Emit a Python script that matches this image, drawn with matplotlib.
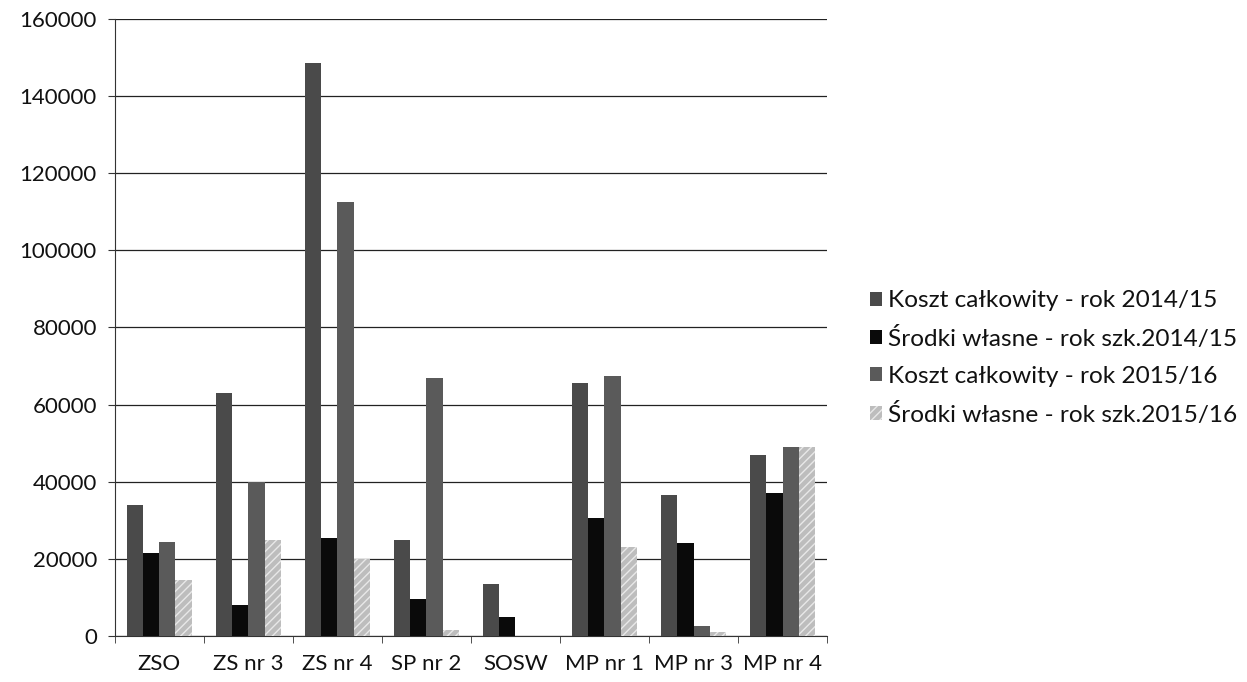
import matplotlib
matplotlib.use("Agg")
import matplotlib.pyplot as plt
import numpy as np

categories = ["ZSO", "ZS nr 3", "ZS nr 4", "SP nr 2", "SOSW", "MP nr 1", "MP nr 3", "MP nr 4"]
koszt_2014 = [34000, 63000, 148500, 25000, 13500, 65500, 36500, 47000]
srodki_2014 = [21500, 8000, 25500, 9500, 5000, 30500, 24000, 37000]
koszt_2015 = [24500, 40000, 112500, 67000, 0, 67500, 2500, 49000]
srodki_2015 = [14500, 25000, 20000, 1500, 0, 23000, 1000, 49000]
series_labels = ["Koszt całkowity - rok 2014/15", "Środki własne - rok szk.2014/15",
                 "Koszt całkowity - rok 2015/16", "Środki własne - rok szk.2015/16"]
yticks = [0, 20000, 40000, 60000, 80000, 100000, 120000, 140000, 160000]

plt.rcParams['font.family'] = ['Lato', 'DejaVu Sans']
fig = plt.figure(figsize=(12.47, 6.82), dpi=100)
ax = fig.add_axes([0.0922, 0.0674, 0.571, 0.905])

x = np.arange(len(categories))
w = 0.18
styles = [dict(color="#4a4a4a", hatch=None), dict(color="#0a0a0a", hatch=None),
          dict(color="#5a5a5a", hatch=None), dict(color="#bdbdbd", hatch="////")]
data = [koszt_2014, srodki_2014, koszt_2015, srodki_2015]
handles = []
for i, (vals, st, lab) in enumerate(zip(data, styles, series_labels)):
    b = ax.bar(x + (i - 1.5) * w, vals, w, color=st["color"], label=lab, zorder=3,
               hatch=st["hatch"], edgecolor="#e8e8e8" if st["hatch"] else st["color"], linewidth=0)
    handles.append(b)

ax.set_xlim(-0.5, len(categories) - 0.5)
ax.set_ylim(0, 160000)
ax.set_yticks(yticks)
ax.set_yticklabels([str(v) for v in yticks], fontsize=16, color="#111111")
ax.set_xticks(x)
ax.set_xticklabels(categories, fontsize=16, color="#111111")
ax.set_xticks(np.arange(-0.5, len(categories)), minor=True)
ax.tick_params(axis="x", which="major", length=0, pad=13)
ax.tick_params(axis="x", which="minor", length=5, color="#333333")
ax.tick_params(axis="y", length=5, color="#333333", pad=8)
ax.grid(axis="y", color="#222222", linewidth=0.9, zorder=0)
for s in ["top", "right"]:
    ax.spines[s].set_visible(False)
for s in ["left", "bottom"]:
    ax.spines[s].set_color("#333333")

fig.legend(handles=handles, labels=series_labels, loc="center left",
           bbox_to_anchor=(0.68, 0.475), frameon=False, fontsize=17.6,
           handlelength=0.5, handleheight=0.5, handletextpad=0.25, labelspacing=0.65,
           labelcolor="#111111")

fig.savefig("out.png", dpi=100)
